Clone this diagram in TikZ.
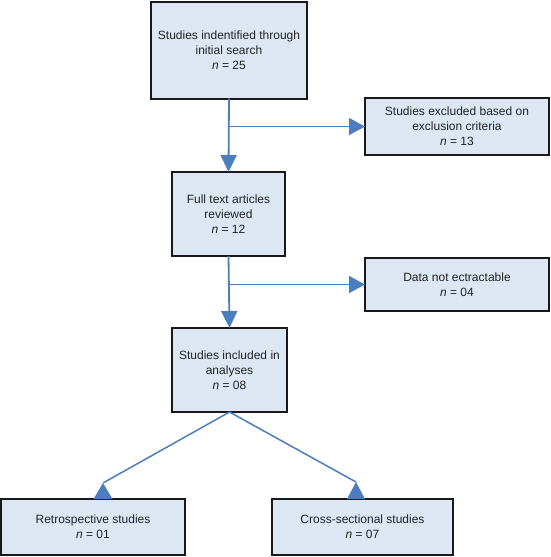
\documentclass[tikz,border=0pt]{standalone}
\usepackage{fontspec}
\setmainfont{Liberation Sans}
\usetikzlibrary{arrows.meta}
\definecolor{boxfill}{HTML}{DDE7F3}
\definecolor{arrowblue}{HTML}{4A7EBE}
\definecolor{textgray}{HTML}{222222}
\tikzset{
  box/.style={draw=black!90, line width=2pt, fill=boxfill, align=center, inner sep=0pt, outer sep=0pt,
    text=textgray, font=\fontsize{12pt}{15pt}\selectfont},
  arr/.style={draw=arrowblue, line width=1.8pt, -{Triangle[length=17pt,width=16pt]}},
  harr/.style={draw=arrowblue, line width=1.4pt, -{Triangle[length=16pt,width=17pt]}},
  conn/.style={draw=arrowblue, line width=1.5pt},
  tri/.style={fill=arrowblue}
}
\begin{document}
\begin{tikzpicture}[x=1pt,y=-1pt]
\useasboundingbox (0,0) rectangle (551,557);
\node[box, minimum width=156pt, minimum height=97pt] (b1) at (229,50) {Studies indentified through\\initial search\\\textit{n} = 25};
\node[box, minimum width=184pt, minimum height=57pt] (b2) at (457,126.5) {Studies excluded based on\\exclusion criteria\\\textit{n} = 13};
\node[box, minimum width=113pt, minimum height=84pt] (b3) at (228.5,214) {Full text articles\\reviewed\\\textit{n} = 12};
\node[box, minimum width=184pt, minimum height=53pt] (b4) at (457,284.5) {Data not ectractable\\\textit{n} = 04};
\node[box, minimum width=115pt, minimum height=84pt] (b5) at (229.5,370) {Studies included in\\analyses\\\textit{n} = 08};
\node[box, minimum width=184pt, minimum height=56pt] (b6) at (93,527) {Retrospective studies\\\textit{n} = 01};
\node[box, minimum width=181pt, minimum height=56pt] (b7) at (362.5,527) {Cross-sectional studies\\\textit{n} = 07};

\draw[arr] (b1.south) -- (b3.north);
\draw[harr] (b1.south |- b2.west) -- (b2.west);
\draw[arr] (b3.south) -- (b5.north);
\draw[harr] (b3.south |- b4.west) -- (b4.west);

\coordinate (t1) at (103,483);
\coordinate (t2) at (356,482);
\draw[conn] (b5.south) -- (t1);
\draw[conn] (b5.south) -- (t2);
\fill[tri] (t1) -- ++(-9.5,16) -- ++(19,0) -- cycle;
\fill[tri] (t2) -- ++(-9,17) -- ++(18,0) -- cycle;
\end{tikzpicture}
\end{document}
